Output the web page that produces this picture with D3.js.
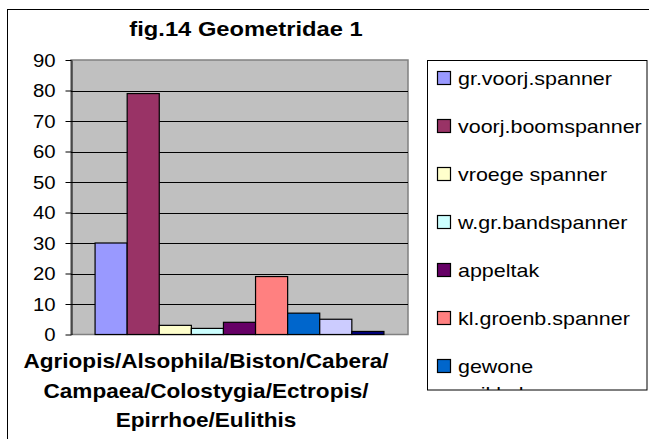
<!DOCTYPE html>
<html>
<head>
<meta charset="utf-8">
<script src="https://cdn.jsdelivr.net/npm/d3@7"></script>
<style>
  body { margin: 0; background: #fff; }
  svg { display: block; font-family: "Liberation Sans", Arial, sans-serif; }
</style>
</head>
<body>
<svg id="chart" width="649" height="439"></svg>
<script>
const title = "fig.14  Geometridae 1"
const categoryLines = ["Agriopis/Alsophila/Biston/Cabera/", "Campaea/Colostygia/Ectropis/", "Epirrhoe/Eulithis"]
const categories = [categoryLines.join("")]
const seriesNames = ["gr.voorj.spanner", "voorj.boomspanner", "vroege spanner", "w.gr.bandspanner",
  "appeltak", "kl.groenb.spanner", "gewone spikkelspanner", "gew.bandspanner", "Eulithis spec."]
const seriesValues = [30, 79, 3, 2, 4, 19, 7, 5, 1]
const yTicks = [0, 10, 20, 30, 40, 50, 60, 70, 80, 90]
const colors = ["#9999FF", "#993366", "#FFFFCC", "#CCFFFF", "#660066", "#FF8080", "#0066CC", "#CCCCFF", "#000080"]

const stretch = 1.13
let plot = {left: 71, right: 408, top: 60, bottom: 334.5}
let legend = {left: 427.5, top: 60.5, width: 219.5, height: 329.5}

const svg = d3.select("#chart")

// outer chart frame (runs off the picture right and bottom)
svg.append("rect")
  .attr("x", 7.5).attr("y", 9.5)
  .attr("width", 700).attr("height", 500)
  .attr("fill", "#fff").attr("stroke", "#000")

svg.append("g")
  .attr("transform", "translate(246,36) scale(" + stretch + ",1)")
  .append("text")
    .attr("text-anchor", "middle")
    .attr("font-size", 21).attr("font-weight", "bold")
    .text(title)

const y = d3.scaleLinear().domain([0, 90]).range([plot.bottom, plot.top])
const x0 = d3.scaleBand().domain(categories).range([plot.left, plot.right])
  .paddingInner(0).paddingOuter(0.75 / 9)
const x1 = d3.scaleBand().domain(seriesNames).range([0, x0.bandwidth()])

svg.append("rect")
  .attr("x", plot.left).attr("y", plot.top)
  .attr("width", plot.right - plot.left).attr("height", plot.bottom - plot.top)
  .attr("fill", "#C0C0C0").attr("stroke", "#808080").attr("stroke-width", 1.5)

svg.append("g").selectAll("line").data(yTicks.filter(d => d > 0 && d < 90))
  .join("line")
    .attr("x1", plot.left).attr("x2", plot.right)
    .attr("y1", d => Math.round(y(d)) + 0.5).attr("y2", d => Math.round(y(d)) + 0.5)
    .attr("stroke", "#000")

const yAxis = svg.append("g")
  .attr("transform", "translate(" + (plot.left + 0.5) + ",0)")
  .call(d3.axisLeft(y).tickValues(yTicks).tickSize(6).tickSizeOuter(0))
yAxis.select(".domain").attr("stroke", "#000")
yAxis.selectAll(".tick line").attr("stroke", "#000")
yAxis.selectAll(".tick text")
  .attr("x", -16 / stretch)
  .attr("dy", "0.36em")
  .attr("transform", "scale(" + stretch + ",1)")
  .attr("font-size", 18)
  .attr("font-family", "Liberation Sans, Arial, sans-serif")
  .attr("fill", "#000")

svg.append("g").selectAll("rect").data(seriesValues)
  .join("rect")
    .attr("x", (d, i) => x0(categories[0]) + x1(seriesNames[i]))
    .attr("y", d => y(d))
    .attr("width", x1.bandwidth())
    .attr("height", d => y(0) - y(d))
    .attr("fill", (d, i) => colors[i])
    .attr("stroke", "#000").attr("stroke-width", 1.2)

svg.append("g")
  .attr("transform", "translate(206,0)")
  .selectAll("g").data(categoryLines)
  .join("g")
    .attr("transform", (d, i) => "translate(0," + (368 + i * 29.5) + ") scale(" + stretch + ",1)")
    .append("text")
      .attr("text-anchor", "middle")
      .attr("font-size", 20).attr("font-weight", "bold")
      .text(d => d)

// legend, clipped to its box like the original
svg.append("clipPath").attr("id", "legclip")
  .append("rect")
    .attr("x", legend.left).attr("y", legend.top)
    .attr("width", legend.width).attr("height", legend.height)

svg.append("rect")
  .attr("x", legend.left).attr("y", legend.top)
  .attr("width", legend.width).attr("height", legend.height)
  .attr("fill", "#fff").attr("stroke", "#000")

const items = svg.append("g").attr("clip-path", "url(#legclip)")
  .selectAll("g").data(seriesNames)
  .join("g")
    .attr("transform", (d, i) => "translate(" + (legend.left + 10) + "," + (78 + i * 48) + ")")

items.append("rect")
  .attr("x", 0).attr("y", -6.5)
  .attr("width", 13).attr("height", 13)
  .attr("fill", (d, i) => colors[i])
  .attr("stroke", "#000").attr("stroke-width", 1.2)

items.append("g")
  .attr("transform", "translate(20.5,7) scale(" + stretch + ",1)")
  .append("text")
    .attr("font-size", 19)
    .each(function(d) {
      let el = d3.select(this)
      let maxw = (legend.left + legend.width - 458) / stretch - 8
      let words = d.split(" ")
      let lines = [words[0]]
      words.slice(1).forEach(w => {
        el.text(lines[lines.length - 1] + " " + w)
        if (this.getComputedTextLength() > maxw) lines.push(w)
        else lines[lines.length - 1] += " " + w
      })
      el.text(null)
      el.selectAll("tspan").data(lines).join("tspan")
        .attr("x", 0)
        .attr("y", (l, j) => j * 27)
        .text(l => l)
    })
</script>
</body>
</html>
